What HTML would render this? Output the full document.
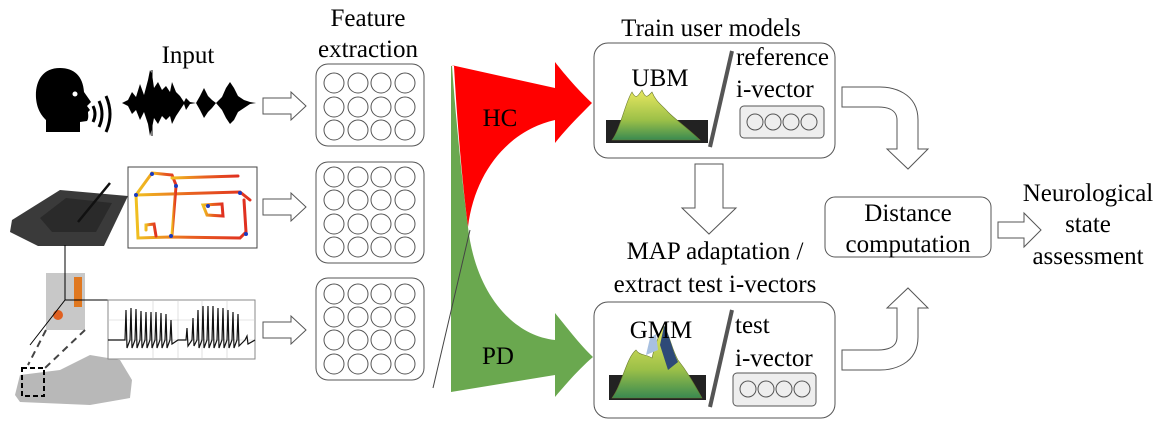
<!DOCTYPE html>
<html><head><meta charset="utf-8"><style>
html,body{margin:0;padding:0;background:#fff}
svg{display:block}
.t{font-family:"Liberation Serif","DejaVu Serif","Noto Serif CJK SC",serif;font-size:25px;fill:#000}
</style></head><body>
<svg width="1159" height="430" viewBox="0 0 1159 430" xmlns="http://www.w3.org/2000/svg">
<defs>
<linearGradient id="surf" x1="0" y1="0" x2="0" y2="1">
<stop offset="0" stop-color="#e8e860"/><stop offset="0.6" stop-color="#9cc048"/><stop offset="1" stop-color="#3a8a50"/></linearGradient>
<linearGradient id="pen" x1="0" y1="0" x2="1" y2="0">
<stop offset="0" stop-color="#f0c020"/><stop offset="0.5" stop-color="#e86020"/><stop offset="1" stop-color="#e03020"/></linearGradient>
<g id="r1"><circle cx="334" cy="0" r="10"/><circle cx="358" cy="0" r="10"/><circle cx="381" cy="0" r="10"/><circle cx="405" cy="0" r="10"/></g>
</defs>

<text class="t" x="368" y="26" text-anchor="middle">Feature</text>
<text class="t" x="368" y="57" text-anchor="middle">extraction</text>
<text class="t" x="188" y="63" text-anchor="middle">Input</text>
<text class="t" x="711" y="36" text-anchor="middle">Train user models</text>
<text class="t" x="715" y="259" text-anchor="middle">MAP adaptation /</text>
<text class="t" x="715" y="292" text-anchor="middle">extract test i-vectors</text>
<text class="t" x="1088" y="201" text-anchor="middle">Neurological</text>
<text class="t" x="1088" y="232" text-anchor="middle">state</text>
<text class="t" x="1088" y="264" text-anchor="middle">assessment</text>

<!-- speaker head -->
<path d="M60,68 C42,68 35,82 36,98 C37,110 42,116 46,120 L46,132 L80,132 L80,122 L87,121 C89,118 88,114 88,112 L90,110 L87,106 L91,102 L84,92 C83,76 74,68 60,68 Z" fill="#000"/>
<circle cx="75" cy="94" r="2.5" fill="#fff"/>
<path d="M93,106 q4,8 0,16 M99,101 q6,13 0,26 M106,96 q8,18 0,36" stroke="#000" stroke-width="3" fill="none"/>
<!-- waveform -->
<path d="M122,103 L128,100 L132,92 L136,97 L140,84 L144,95 L148,80 L150,70 L152,74 L154,88 L158,82 L162,90 L166,86 L170,92 L172,82 L176,92 L180,96 L184,102 L186,98 L190,102 L196,103 L200,96 L204,88 L208,96 L212,100 L216,103 L222,97 L226,88 L230,82 L234,88 L238,96 L244,100 L250,102 L256,103 L250,104 L244,108 L238,112 L234,120 L230,124 L226,118 L222,110 L216,103 L212,108 L208,112 L204,118 L200,110 L196,103 L190,104 L186,110 L184,104 L180,110 L176,116 L172,124 L170,116 L166,120 L162,116 L158,124 L154,118 L152,128 L150,136 L148,124 L144,112 L140,120 L136,110 L132,114 L128,106 Z" fill="#000"/>
<line x1="152" y1="70" x2="152" y2="136" stroke="#000" stroke-width="1"/>

<!-- tablet -->
<polygon points="12,220 60,190 128,196 104,246 38,246 10,232" fill="#3a3a3a"/>
<polygon points="40,218 66,198 112,203 96,232 52,232" fill="#2a2a2a"/>
<line x1="78" y1="222" x2="110" y2="183" stroke="#111" stroke-width="2.5"/>
<!-- drawing -->
<rect x="128" y="167" width="129" height="81" fill="#fff" stroke="#444" stroke-width="1"/>
<g fill="none" stroke="url(#pen)" stroke-width="3" stroke-linecap="round">
<path d="M136,195 L240,192 L250,200"/>
<path d="M152,173 L172,175 L176,185"/>
<path d="M152,173 L136,195 L138,238 L170,237 L240,238 L246,232 L244,200"/>
<path d="M176,186 L172,235"/>
<path d="M203,205 L222,204 L223,216 L207,215 Z"/>
<path d="M146,230 L146,225 L154,224 L156,236"/>
<path d="M172,178 L238,176"/>
</g>
<g fill="#1a3ac0"><circle cx="152" cy="174" r="2"/><circle cx="176" cy="186" r="2"/><circle cx="136" cy="195" r="2"/><circle cx="171" cy="236" r="2"/><circle cx="240" cy="193" r="2"/><circle cx="246" cy="234" r="2"/><circle cx="208" cy="206" r="2"/></g>

<!-- sensor -->
<polygon points="46,273 85,273 85,330 46,330" fill="#c8c8c8"/>
<rect x="74" y="277" width="8" height="30" fill="#e07820"/>
<circle cx="58" cy="315" r="5" fill="#e06020"/>
<line x1="65" y1="245" x2="65" y2="300" stroke="#000"/>
<line x1="65" y1="300" x2="115" y2="300" stroke="#000"/>
<line x1="65" y1="300" x2="30" y2="345" stroke="#000"/>
<line x1="46" y1="330" x2="28" y2="365" stroke="#444" stroke-width="2" stroke-dasharray="7,5"/>
<line x1="85" y1="330" x2="45" y2="368" stroke="#444" stroke-width="2" stroke-dasharray="7,5"/>
<path d="M15,395 L20,375 L60,370 L90,355 L120,360 L132,380 L130,398 L90,405 L20,402 Z" fill="#b8b8b8"/>
<rect x="22" y="368" width="22" height="28" fill="none" stroke="#000" stroke-width="2" stroke-dasharray="5,3"/>
<!-- accel plot -->
<rect x="108" y="300" width="147" height="59" fill="#fff" stroke="#888" stroke-width="1"/>
<g stroke="#ccc" stroke-width="0.6"><line x1="108" y1="320" x2="255" y2="320"/><line x1="108" y1="340" x2="255" y2="340"/><line x1="153" y1="300" x2="153" y2="359"/><line x1="178" y1="300" x2="178" y2="359"/><line x1="202" y1="300" x2="202" y2="359"/><line x1="227" y1="300" x2="227" y2="359"/></g>
<path d="M108,340 L125,340 L126,310 L127,348 L130,340 L131,308 L132,348 L135,340 L136,309 L137,348 L140,340 L141,311 L142,348 L145,340 L146,312 L147,348 L150,340 L151,312 L152,348 L155,340 L156,312 L157,348 L160,340 L161,313 L162,348 L165,340 L166,314 L167,348 L170,340 L171,320 L172,344 L178,340 L186,340 L187,328 L188,346 L192,340 L193,318 L194,346 L197,340 L198,310 L199,348 L202,340 L203,306 L204,348 L207,340 L208,306 L209,348 L212,340 L213,306 L214,348 L217,340 L218,308 L219,348 L222,340 L223,308 L224,348 L227,340 L228,310 L229,348 L232,340 L233,312 L234,348 L237,340 L238,314 L239,346 L245,340 L247,336 L248,344 L255,340" fill="none" stroke="#111" stroke-width="1.2"/>

<!-- hollow arrows to feature boxes -->
<g fill="#fff" stroke="#555" stroke-width="1">
<polygon points="263,98 291,98 291,92 306,106 291,120 291,114 263,114"/>
<polygon points="263,199 291,199 291,193 306,207 291,221 291,215 263,215"/>
<polygon points="263,322 291,322 291,316 306,330 291,344 291,338 263,338"/>
</g>

<!-- feature boxes -->
<g fill="#fff" stroke="#555" stroke-width="1">
<rect x="316" y="64" width="108" height="82" rx="12"/>
<rect x="316" y="162" width="108" height="101" rx="12"/>
<rect x="316" y="278" width="108" height="102" rx="12"/>
</g>
<g fill="none" stroke="#555" stroke-width="1">
<use href="#r1" y="83"/><use href="#r1" y="107"/><use href="#r1" y="130"/>
<use href="#r1" y="177"/><use href="#r1" y="200"/><use href="#r1" y="224"/><use href="#r1" y="247"/>
<use href="#r1" y="294"/><use href="#r1" y="317"/><use href="#r1" y="340"/><use href="#r1" y="364"/>
</g>

<!-- HC / PD flows -->
<path d="M451,392 L555,375 L555,397 C565,385 580,368 593,357 C580,345 565,325 555,313 L555,340 C510,335 475,290 468,227 C462,180 456,120 452,66 L451,66 Z" fill="#6aa84f"/>
<path d="M451,65 L555,88 L555,62 C565,75 580,92 592,103 C580,115 565,130 555,143 L555,120 C510,130 475,170 468,227 C462,180 457,120 454,66 Z" fill="#ff0000"/>
<line x1="433" y1="388" x2="470" y2="230" stroke="#444" stroke-width="1"/>
<text class="t" x="500" y="126" text-anchor="middle">HC</text>
<text class="t" x="498" y="364" text-anchor="middle">PD</text>

<!-- top model box -->
<rect x="594" y="43" width="241" height="115" rx="14" fill="#fff" stroke="#555" stroke-width="1"/>
<polygon points="606,120 708,120 708,143 606,143" fill="#222"/>
<path d="M612,140 C620,130 626,100 632,92 C636,100 638,96 642,90 C646,100 648,96 652,92 C656,102 662,105 668,112 C676,120 684,125 700,140 Z" fill="url(#surf)" stroke="#6a7a30" stroke-width="0.6"/>
<line x1="732" y1="51" x2="710" y2="147" stroke="#555" stroke-width="4"/>
<rect x="740" y="106" width="84" height="32" rx="4" fill="#eee" stroke="#555"/>
<g fill="none" stroke="#555"><circle cx="755" cy="122" r="8"/><circle cx="773" cy="122" r="8"/><circle cx="791" cy="122" r="8"/><circle cx="809" cy="122" r="8"/></g>

<!-- bottom model box -->
<rect x="594" y="302" width="241" height="116" rx="14" fill="#fff" stroke="#555" stroke-width="1"/>
<polygon points="609,375 706,375 706,400 609,400" fill="#222"/>
<path d="M612,398 C622,385 626,358 636,350 C640,356 646,354 652,358 C656,340 660,334 664,326 C670,336 672,350 678,360 C686,370 692,380 702,398 Z" fill="url(#surf)" stroke="#6a7a30" stroke-width="0.6"/>
<path d="M664,326 C670,336 672,350 678,362 L668,370 L660,345 Z" fill="#2e4a78"/>
<path d="M646,355 L650,338 L656,334 L658,350 Z" fill="#a8c0e0"/>
<line x1="732" y1="310" x2="710" y2="407" stroke="#555" stroke-width="4"/>
<rect x="733" y="373" width="83" height="33" rx="4" fill="#eee" stroke="#555"/>
<g fill="none" stroke="#555"><circle cx="748" cy="389" r="8"/><circle cx="766" cy="389" r="8"/><circle cx="784" cy="389" r="8"/><circle cx="802" cy="389" r="8"/></g>

<text class="t" x="660" y="86" text-anchor="middle">UBM</text>
<text class="t" x="736" y="65">reference</text>
<text class="t" x="736" y="97">i-vector</text>
<text class="t" x="661" y="338" text-anchor="middle">GMM</text>
<text class="t" x="735" y="333">test</text>
<text class="t" x="735" y="366">i-vector</text>

<!-- down arrow between boxes -->
<polygon points="695,164 723,164 723,208 736,208 709,234 682,208 695,208" fill="#fff" stroke="#555"/>

<!-- curved arrows -->
<path d="M842,87 L880,87 C892,87 918,92 918,120 L918,149 L928,149 L908,169 L887,149 L897,149 L897,120 C897,110 888,107 878,107 L842,107 Z" fill="#fff" stroke="#555"/>
<path d="M842,370 L880,370 C892,370 918,365 918,337 L918,308 L928,308 L908,288 L887,308 L897,308 L897,337 C897,347 888,350 878,350 L842,350 Z" fill="#fff" stroke="#555"/>

<!-- distance box -->
<rect x="825" y="197" width="166" height="60" rx="10" fill="#fff" stroke="#555"/>
<text class="t" x="908" y="221" text-anchor="middle">Distance</text>
<text class="t" x="908" y="252" text-anchor="middle">computation</text>
<polygon points="998,222 1024,222 1024,213 1041,230 1024,247 1024,238 998,238" fill="#fff" stroke="#555"/>
</svg>
</body></html>
